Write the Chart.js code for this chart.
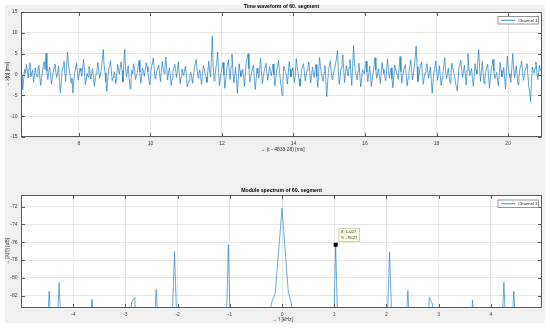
<!DOCTYPE html>
<html><head><meta charset="utf-8">
<script src="https://cdn.jsdelivr.net/npm/chart.js@4.4.0/dist/chart.umd.min.js"></script>
<style>
html,body{margin:0;padding:0;background:#fff;width:550px;height:329px;overflow:hidden}
#fig{position:absolute;left:5px;top:5px;width:540px;height:318px;background:#f0f0f0}
canvas{position:absolute;left:0}
#c1{top:0}
#c2{top:160px}
</style></head><body>
<div id="fig"></div>
<canvas id="c1" width="550" height="160"></canvas>
<canvas id="c2" width="550" height="169"></canvas>
<script>
// ---- data ----
const seriesName = 'Channel 1';
const waveStart = 6.38;   // ms
const waveStep = 0.025;   // ms per sample
const waveValues = [
 -1.5,-0.2,-3.7,-1.1,1.2,0.3,2.4,1.0,-0.8,1.5,2.8,-0.6,0.4,1.1,-1.9,-0.3,1.6,0.2,-0.5,1.4,2.2,-0.4,-2.6,-1.0,0.9,2.0,3.1,1.2,5.1,0.8,-1.2,0.5,1.8,0.1,-2.3,-0.8,0.6,1.7,2.5,0.4,
 -0.7,0.6,1.9,-1.0,-4.4,-2.1,0.8,1.9,3.2,0.5,-1.6,1.8,5.4,2.6,1.1,-0.4,-2.0,-0.9,-4.4,-1.7,0.5,1.3,2.7,0.9,-1.3,-0.1,1.5,0.8,-0.4,1.6,3.6,0.7,-2.4,-1.2,0.3,-0.6,2.0,0.9,-1.1,0.2,
 1.4,-0.3,-2.8,-1.4,0.2,1.0,2.9,0.6,-0.9,0.1,1.7,3.5,6.0,2.2,0.4,-1.8,-4.0,-1.3,1.2,2.0,3.3,1.1,-1.5,-0.6,0.7,0.0,-2.2,-0.5,2.4,1.3,0.1,1.7,3.0,0.9,-1.8,2.4,6.1,1.6,-0.6,0.8,
 2.1,-0.9,-3.4,-1.6,1.0,0.2,2.6,1.5,-1.2,-0.3,0.3,1.8,3.4,0.6,-2.1,-0.4,1.5,0.7,-0.4,1.1,2.8,1.9,0.6,-1.2,-2.5,-0.2,1.9,2.8,4.0,1.4,-1.0,-0.1,0.8,1.6,2.3,0.3,-1.7,0.9,3.1,1.5,
 0.2,2.0,4.2,1.3,-1.3,0.4,1.6,-0.2,-2.6,-1.1,0.9,1.7,2.5,0.8,-0.7,1.2,3.0,0.4,-2.2,-0.7,1.3,0.5,-0.2,1.1,2.0,-0.6,-3.0,-2.2,-1.4,-0.3,0.5,-0.8,-2.1,-0.2,1.8,2.7,3.6,1.0,-0.8,0.3,
 1.1,-0.5,-2.4,0.1,2.2,1.4,0.3,-0.6,-1.9,0.7,3.2,1.0,-0.6,3.8,9.2,2.1,-1.5,-0.2,1.4,2.9,5.4,0.8,-2.7,-1.0,0.6,1.7,2.9,-0.1,-3.3,-1.2,1.0,2.2,3.5,0.6,-1.2,1.9,4.9,0.9,-2.0,-0.4,
 1.7,-1.1,-4.5,-1.3,2.6,0.9,-0.5,0.3,1.2,-0.7,-2.9,0.2,3.0,3.9,5.0,1.4,-1.8,-0.5,0.4,1.6,2.3,-0.4,-3.6,-1.5,1.5,0.3,-0.9,1.2,3.9,0.5,-2.2,-0.6,0.8,1.9,2.7,0.4,-1.4,0.1,1.9,0.7,
 -0.3,1.0,2.5,-0.1,-2.7,-1.0,1.1,2.0,3.4,0.9,-1.0,-2.8,-5.0,-1.4,2.0,1.2,0.7,-0.6,-2.3,0.4,3.1,1.3,-0.6,0.5,1.6,-0.3,-1.9,0.8,3.8,1.6,0.2,-1.1,-2.8,-0.7,1.3,2.0,2.6,0.5,-1.5,-0.2,
 0.9,1.8,3.0,0.6,-2.0,-0.3,1.8,0.4,-0.7,1.3,2.4,-0.5,-3.1,0.6,4.1,1.9,0.3,-0.8,-1.6,0.5,2.2,-1.7,-5.3,-1.9,1.0,2.1,3.3,0.7,-1.2,-0.2,0.6,1.5,2.8,3.9,5.7,1.0,-2.4,-0.5,1.5,2.9,
 4.7,1.2,-1.9,0.3,2.1,0.8,-0.4,1.7,3.6,0.4,-2.6,1.9,7.0,2.6,0.8,-0.1,-1.3,0.9,2.7,-0.2,-3.0,-0.9,1.2,0.5,0.1,1.8,3.2,0.6,-1.7,0.2,2.0,-0.4,-2.9,-1.0,0.6,2.3,4.0,1.1,-0.9,0.3,
 1.4,-0.4,-2.2,0.5,2.9,1.3,0.2,-0.5,-1.5,1.0,3.7,1.2,-0.8,0.5,1.6,-1.1,-3.2,-0.6,2.3,1.4,0.5,-0.2,-1.1,1.6,4.3,0.7,-2.0,-0.5,1.0,1.8,2.4,-0.3,-2.7,-0.9,0.7,2.0,3.5,0.9,-1.3,0.4,
 2.0,4.1,6.8,1.9,-1.7,-0.4,1.1,2.2,3.0,0.3,-2.3,-0.8,0.4,1.4,2.6,0.8,-0.9,0.6,1.8,-1.5,-4.5,-1.6,0.9,2.0,3.3,0.8,-1.4,0.3,2.1,-0.2,-2.6,-1.0,0.3,2.1,4.1,1.0,-1.0,0.2,1.5,-0.4,
 -2.1,0.2,2.7,1.5,0.6,-0.5,-1.8,-2.9,-4.0,-0.9,1.9,2.5,3.4,0.9,-0.7,0.8,2.2,-0.1,-2.5,1.0,5.0,1.6,-0.3,0.6,1.4,-0.9,-2.9,-0.4,2.6,1.1,0.1,3.2,6.0,1.5,-1.6,0.7,3.1,0.4,-2.2,-0.8,
 0.8,1.7,2.4,-0.3,-3.3,-1.2,1.2,2.3,3.6,0.9,-1.0,-0.2,0.5,-1.1,-2.7,0.1,2.9,1.0,-0.6,0.4,1.7,-0.9,-3.5,0.3,4.4,1.8,0.2,-0.7,-1.9,1.4,5.0,1.9,-0.8,0.6,2.1,-0.3,-2.4,-0.6,1.3,2.0,
 3.2,0.8,-1.4,-0.2,0.9,1.7,2.6,-0.1,-2.8,-4.1,-6.5,-1.9,1.8,0.9,0.3,1.6,3.0,0.7,-1.2,0.5,2.2,1.1,0.7
];
const specFreq = [-5.0,-4.50,-4.46,-4.42,-4.31,-4.27,-4.23,-3.68,-3.64,-3.60,-2.93,-2.88,-2.82,-2.80,
 -2.45,-2.41,-2.37,-2.11,-2.06,-2.01,-1.07,-1.027,-0.99,-0.30,-0.20,-0.13,0,0.12,0.17,0.27,
 0.99,1.027,1.07,2.01,2.06,2.11,2.37,2.41,2.45,2.80,2.82,2.88,2.93,3.61,3.65,3.69,4.21,4.25,4.29,4.40,4.44,4.48,4.98];
const specDb = [-86,-86,-81.5,-86,-86,-80.5,-86,-86,-82.4,-86,-86,-82.7,-82.2,-86,
 -86,-81.3,-86,-86,-77.05,-86,-86,-76.27,-86,-86,-82.8,-81.7,-72.2,-81.6,-82.6,-86,
 -86,-76.27,-86,-86,-77.1,-86,-86,-81.4,-86,-86,-82.2,-82.9,-86,-86,-82.5,-86,-86,-80.5,-86,-86,-81.5,-86,-86];
const waveXTicks = [8,10,12,14,16,18,20];
const waveYTicks = [-15,-10,-5,0,5,10,15];
const specXTicks = [-4,-3,-2,-1,0,1,2,3,4];
const specYTicks = [-82,-80,-78,-76,-74,-72];
const tipX = 1.027, tipY = -76.27;

const FONT = "'Liberation Sans', Arial, sans-serif";
const BLUE = '#0072BD';

const matlabPlugin = {
  id: 'matlab',
  beforeDraw(chart, args, o) {
    const {ctx, chartArea: a} = chart;
    ctx.save(); ctx.fillStyle = '#fff';
    ctx.fillRect(a.left, a.top, a.right - a.left, a.bottom - a.top);
    ctx.restore();
  },
  afterDatasetsDraw(chart, args, o) {
    const {ctx, chartArea: a, scales} = chart;
    const xs = scales.x, ys = scales.y;
    ctx.save();
    ctx.strokeStyle = '#5a5a5a'; ctx.lineWidth = 1;
    const L = Math.round(a.left) + 0.5, T = Math.round(a.top) + 0.5, R = Math.round(a.right) - 0.5, B = Math.round(a.bottom) - 0.5;
    ctx.strokeRect(L, T, R - L, B - T);
    ctx.beginPath();
    o.xTicks.forEach(v => { const p = Math.round(xs.getPixelForValue(v)) + 0.5; ctx.moveTo(p, B); ctx.lineTo(p, B - 3.5); ctx.moveTo(p, T); ctx.lineTo(p, T + 3.5); });
    o.yTicks.forEach(v => { const p = Math.round(ys.getPixelForValue(v)) + 0.5; ctx.moveTo(L, p); ctx.lineTo(L + 3.5, p); ctx.moveTo(R, p); ctx.lineTo(R - 3.5, p); });
    ctx.stroke();
    if (o.tip) {
      const mx = xs.getPixelForValue(o.tip.x), my = ys.getPixelForValue(o.tip.y);
      ctx.fillStyle = '#000'; ctx.fillRect(mx - 2, my - 2, 4, 4);
      const bx = mx + 3, by = my - 16.5, bw = 20.5, bh = 13;
      ctx.fillStyle = '#ffffe1'; ctx.fillRect(bx, by, bw, bh);
      ctx.strokeStyle = '#b0b0a0'; ctx.lineWidth = 0.6; ctx.strokeRect(bx + 0.3, by + 0.3, bw, bh);
      ctx.fillStyle = '#222'; ctx.font = '4.2px ' + FONT; ctx.textAlign = 'left'; ctx.textBaseline = 'middle';
      ctx.fillText('X: ' + o.tip.x.toFixed(3), bx + 2, by + 4);
      ctx.fillText('Y: ' + o.tip.y.toFixed(2), bx + 2, by + 10);
    }
    const lw = 40.5, lh = 7.5, lx = a.right - 3.5 - lw, ly = a.top + o.legendTop;
    ctx.fillStyle = '#fff'; ctx.fillRect(lx, ly, lw, lh);
    ctx.strokeStyle = '#6a6a6a'; ctx.lineWidth = 0.7; ctx.strokeRect(lx, ly, lw, lh);
    ctx.strokeStyle = BLUE; ctx.lineWidth = 0.8; ctx.beginPath();
    ctx.moveTo(lx + 3, ly + lh / 2); ctx.lineTo(lx + 17, ly + lh / 2); ctx.stroke();
    ctx.fillStyle = '#222'; ctx.font = '4.3px ' + FONT; ctx.textAlign = 'left'; ctx.textBaseline = 'middle';
    ctx.fillText(seriesName, lx + 20, ly + lh / 2 + 0.2);
    ctx.restore();
  },
  afterDraw(chart, args, o) {
    const {ctx, chartArea: a} = chart;
    const cx = (a.left + a.right) / 2;
    ctx.save();
    ctx.fillStyle = '#000'; ctx.textAlign = 'center'; ctx.textBaseline = 'middle';
    ctx.font = 'bold 5.2px ' + FONT;
    ctx.fillText(o.title, cx, o.titleY);
    ctx.fillStyle = '#333'; ctx.font = '5px ' + FONT;
    ctx.fillText(o.xlabel, cx + 1, o.xlabelY);
    ctx.translate(8, (a.top + a.bottom) / 2);
    ctx.rotate(-Math.PI / 2);
    ctx.fillText(o.ylabel, 0, 0);
    ctx.restore();
  }
};

function scaleOpts(min, max, ticksArr, fitProp, fitVal) {
  return {
    type: 'linear', min: min, max: max,
    afterBuildTicks: s => { s.ticks = ticksArr.map(v => ({value: v})); },
    afterFit: s => { s[fitProp] = fitVal; },
    grid: {color: '#e6e6e6', lineWidth: 1, drawTicks: false},
    border: {display: false},
    ticks: {font: {family: FONT, size: 5}, color: '#404040', padding: 3.5, maxRotation: 0, autoSkip: false}
  };
}

const wavePoints = waveValues.map((v, i) => ({x: waveStart + i * waveStep, y: v}));
new Chart(document.getElementById('c1'), {
  type: 'line',
  data: {datasets: [{label: seriesName, data: wavePoints, borderColor: '#1a7cc6', borderWidth: 0.7, pointRadius: 0, tension: 0}]},
  options: {
    responsive: false, animation: false, devicePixelRatio: 1,
    layout: {padding: {left: 0, top: 12, right: 8, bottom: 0}},
    plugins: {legend: {display: false}, tooltip: {enabled: false},
      matlab: {title: 'Time waveform of 60. segment', titleY: 7, xlabel: '\u2192 (t - 4833.28) [ms]', xlabelY: 150,
        ylabel: '\u2192 x[n] [ms]', xTicks: waveXTicks, yTicks: waveYTicks, legendTop: 4.5}},
    scales: {
      x: scaleOpts(waveStart, 20.95, waveXTicks, 'height', 23),
      y: scaleOpts(-15, 15, waveYTicks, 'width', 21)
    }
  },
  plugins: [matlabPlugin]
});

const specPoints = specFreq.map((f, i) => ({x: f, y: specDb[i]}));
new Chart(document.getElementById('c2'), {
  type: 'line',
  data: {datasets: [
    {label: seriesName, data: specPoints, borderColor: '#2a86c8', borderWidth: 0.7, pointRadius: 0, tension: 0}
  ]},
  options: {
    responsive: false, animation: false, devicePixelRatio: 1,
    layout: {padding: {left: 0, top: 35, right: 8, bottom: 0}},
    plugins: {legend: {display: false}, tooltip: {enabled: false},
      matlab: {title: 'Module spectrum of 60. segment', titleY: 30.7, xlabel: '\u2192 f [kHz]', xlabelY: 160,
        ylabel: '\u2192 |X(f)| [dB]', xTicks: specXTicks, yTicks: specYTicks, legendTop: 5, tip: {x: tipX, y: tipY}}},
    scales: {
      x: scaleOpts(-5, 4.98, specXTicks, 'height', 21),
      y: scaleOpts(-83.38, -70.69, specYTicks, 'width', 21)
    }
  },
  plugins: [matlabPlugin]
});
</script>
</body></html>
